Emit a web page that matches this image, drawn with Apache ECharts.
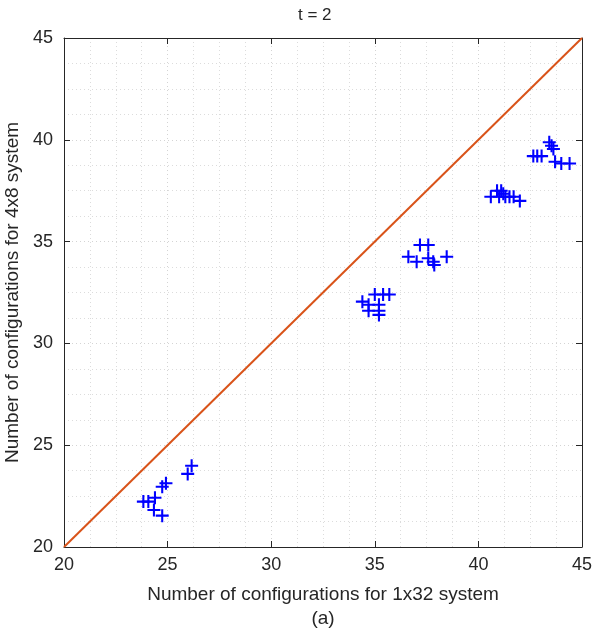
<!DOCTYPE html>
<html><head><meta charset="utf-8">
<script src="https://cdn.jsdelivr.net/npm/echarts@6/dist/echarts.min.js"></script>
<style>html,body{margin:0;padding:0;background:#fff}#c{width:595px;height:637px}</style>
</head><body><div id="c"></div>
<script>
var titleText = 't = 2';
var xName = 'Number of configurations for 1x32 system';
var yName = 'Number of configurations for 4x8 system';
var caption = '(a)';
var axisMin = 20, axisMax = 45, axisStep = 5;
var refLine = [[20, 20], [45, 45]];
var xVals = [26.16, 25.97, 24.92, 24.74, 24.39, 23.83, 24.07, 24.34, 24.74,
             34.4, 34.7, 35.0, 35.4, 35.7, 35.2, 35.2, 35.2, 34.7,
             37.18, 37.58, 36.62, 37.02, 37.58, 37.82, 37.87, 38.47,
             40.6, 40.9, 41.1, 41.0, 41.3, 41.5, 41.7, 42.0, 41.2,
             43.42, 43.53, 43.62, 42.65, 42.84, 43.05, 43.7, 44.0, 44.4];
var yVals = [23.99, 23.59, 23.13, 22.96, 22.42, 22.23, 22.23, 21.82, 21.54,
             32.05, 31.6, 32.4, 32.4, 32.4, 31.9, 31.6, 31.4, 31.9,
             34.83, 34.83, 34.26, 34.01, 34.18, 34.01, 33.85, 34.26,
             37.2, 37.5, 37.5, 37.2, 37.2, 37.2, 37.2, 37.0, 37.35,
             39.88, 39.71, 39.55, 39.2, 39.2, 39.2, 38.92, 38.84, 38.84];
var pts = xVals.map(function (x, i) { return [x, yVals[i]]; });

var font = 'Liberation Sans, Arial, sans-serif';
var txt = '#262626';
function mkAxis(pos, show) {
  return {
    type: 'value', position: pos, min: axisMin, max: axisMax, interval: axisStep,
    axisLine: { show: true, onZero: false, lineStyle: { color: txt, width: 1 } },
    axisTick: { show: true, inside: true, length: 6, lineStyle: { color: txt } },
    axisLabel: { show: show, color: txt, fontFamily: font, fontSize: 18, margin: 10 },
    splitLine: { show: show, lineStyle: { color: '#d4d4d4', type: [1, 3], width: 1 } },
    minorTick: { show: false, splitNumber: 4 },
    minorSplitLine: { show: show, lineStyle: { color: '#dcdcdc', type: [1, 3], width: 1 } }
  };
}
var xa = mkAxis('bottom', true);
xa.name = xName + '\n' + caption;
xa.nameLocation = 'middle';
xa.nameGap = 36;
xa.nameTextStyle = { color: txt, fontFamily: font, fontSize: 19, lineHeight: 24, verticalAlign: 'top' };
xa.axisLabel.margin = 9;
var xb = mkAxis('top', false);
var ya = mkAxis('left', true);
ya.name = yName;
ya.nameLocation = 'middle';
ya.nameGap = 31;
ya.nameTextStyle = { color: txt, fontFamily: font, fontSize: 19 };
ya.axisLabel.margin = 11;
var yb = mkAxis('right', false);

var chart = echarts.init(document.getElementById('c'), null, { renderer: 'canvas' });
chart.setOption({
  animation: false,
  backgroundColor: '#fff',
  title: { text: titleText, left: 293, top: 2, textStyle: { color: txt, fontFamily: font, fontSize: 17, fontWeight: 'normal' } },
  grid: { left: 64, right: 13, top: 38, bottom: 90, containLabel: false, outerBoundsMode: 'none' },
  xAxis: [xa, xb],
  yAxis: [ya, yb],
  series: [
    { type: 'line', data: refLine, xAxisIndex: 0, yAxisIndex: 0, symbol: 'none',
      lineStyle: { color: '#D95319', width: 2 }, z: 2 },
    { type: 'scatter', data: pts, xAxisIndex: 0, yAxisIndex: 0,
      symbol: 'path://M4.2,0 H5.8 V4.2 H10 V5.8 H5.8 V10 H4.2 V5.8 H0 V4.2 H4.2 Z',
      symbolSize: 13, itemStyle: { color: '#0000FF', opacity: 1 }, z: 3 }
  ]
});
</script></body></html>
